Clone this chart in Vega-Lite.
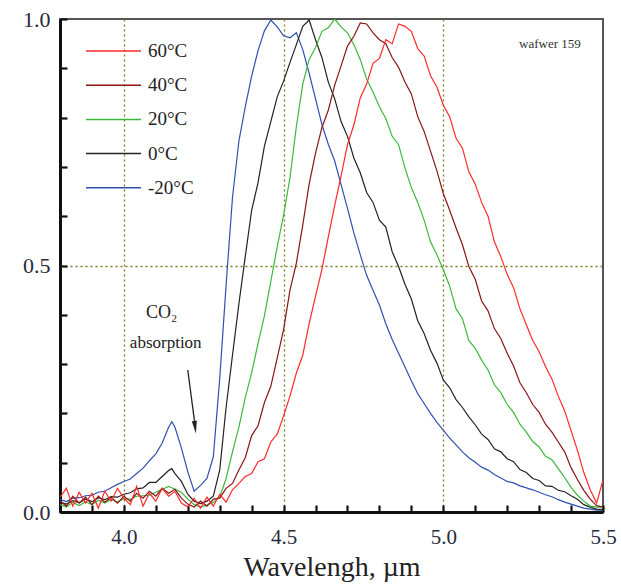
{
"$schema":"https://vega.github.io/schema/vega-lite/v6.json",
"width":543,"height":493,"autosize":"none",
"padding":{"left":60,"top":19,"right":18,"bottom":75},
"background":"white",
"config":{"view":{"stroke":"#555","strokeWidth":2},"font":"Liberation Serif"},
"datasets":{
"m20":[{"x":3.8,"y":0.025},{"x":3.82,"y":0.021},{"x":3.84,"y":0.028},{"x":3.86,"y":0.029},{"x":3.88,"y":0.033},{"x":3.9,"y":0.034},{"x":3.92,"y":0.04},{"x":3.94,"y":0.042},{"x":3.96,"y":0.049},{"x":3.98,"y":0.056},{"x":4.0,"y":0.062},{"x":4.02,"y":0.067},{"x":4.04,"y":0.078},{"x":4.06,"y":0.089},{"x":4.08,"y":0.104},{"x":4.1,"y":0.118},{"x":4.12,"y":0.14},{"x":4.14,"y":0.172},{"x":4.15,"y":0.183},{"x":4.16,"y":0.172},{"x":4.18,"y":0.13},{"x":4.2,"y":0.082},{"x":4.22,"y":0.042},{"x":4.24,"y":0.054},{"x":4.26,"y":0.068},{"x":4.28,"y":0.112},{"x":4.3,"y":0.27},{"x":4.32,"y":0.46},{"x":4.34,"y":0.638},{"x":4.36,"y":0.752},{"x":4.38,"y":0.822},{"x":4.4,"y":0.884},{"x":4.42,"y":0.936},{"x":4.44,"y":0.976},{"x":4.46,"y":0.998},{"x":4.48,"y":0.984},{"x":4.5,"y":0.966},{"x":4.52,"y":0.962},{"x":4.54,"y":0.972},{"x":4.56,"y":0.938},{"x":4.58,"y":0.89},{"x":4.6,"y":0.838},{"x":4.62,"y":0.786},{"x":4.64,"y":0.746},{"x":4.66,"y":0.712},{"x":4.68,"y":0.664},{"x":4.7,"y":0.616},{"x":4.72,"y":0.566},{"x":4.74,"y":0.522},{"x":4.76,"y":0.48},{"x":4.78,"y":0.45},{"x":4.8,"y":0.42},{"x":4.82,"y":0.382},{"x":4.84,"y":0.35},{"x":4.86,"y":0.322},{"x":4.88,"y":0.294},{"x":4.9,"y":0.266},{"x":4.92,"y":0.24},{"x":4.94,"y":0.22},{"x":4.96,"y":0.2},{"x":4.98,"y":0.182},{"x":5.0,"y":0.166},{"x":5.02,"y":0.15},{"x":5.04,"y":0.136},{"x":5.06,"y":0.122},{"x":5.08,"y":0.11},{"x":5.1,"y":0.101},{"x":5.12,"y":0.091},{"x":5.14,"y":0.085},{"x":5.16,"y":0.076},{"x":5.18,"y":0.069},{"x":5.2,"y":0.062},{"x":5.22,"y":0.059},{"x":5.24,"y":0.053},{"x":5.26,"y":0.049},{"x":5.28,"y":0.045},{"x":5.3,"y":0.04},{"x":5.32,"y":0.035},{"x":5.34,"y":0.031},{"x":5.36,"y":0.025},{"x":5.38,"y":0.02},{"x":5.4,"y":0.016},{"x":5.42,"y":0.012},{"x":5.44,"y":0.008},{"x":5.46,"y":0.006},{"x":5.48,"y":0.004},{"x":5.5,"y":0.004}],
"z0":[{"x":3.8,"y":0.02},{"x":3.82,"y":0.016},{"x":3.84,"y":0.023},{"x":3.86,"y":0.019},{"x":3.88,"y":0.026},{"x":3.9,"y":0.021},{"x":3.92,"y":0.029},{"x":3.94,"y":0.025},{"x":3.96,"y":0.031},{"x":3.98,"y":0.03},{"x":4.0,"y":0.036},{"x":4.02,"y":0.039},{"x":4.04,"y":0.047},{"x":4.06,"y":0.049},{"x":4.08,"y":0.06},{"x":4.1,"y":0.06},{"x":4.12,"y":0.072},{"x":4.14,"y":0.084},{"x":4.15,"y":0.088},{"x":4.16,"y":0.078},{"x":4.18,"y":0.062},{"x":4.2,"y":0.036},{"x":4.22,"y":0.022},{"x":4.24,"y":0.017},{"x":4.26,"y":0.022},{"x":4.28,"y":0.032},{"x":4.3,"y":0.085},{"x":4.32,"y":0.212},{"x":4.34,"y":0.318},{"x":4.36,"y":0.422},{"x":4.38,"y":0.518},{"x":4.4,"y":0.612},{"x":4.42,"y":0.668},{"x":4.44,"y":0.742},{"x":4.46,"y":0.792},{"x":4.48,"y":0.842},{"x":4.5,"y":0.874},{"x":4.52,"y":0.912},{"x":4.54,"y":0.948},{"x":4.56,"y":0.985},{"x":4.58,"y":0.998},{"x":4.6,"y":0.958},{"x":4.62,"y":0.922},{"x":4.64,"y":0.872},{"x":4.66,"y":0.838},{"x":4.68,"y":0.792},{"x":4.7,"y":0.762},{"x":4.72,"y":0.718},{"x":4.74,"y":0.688},{"x":4.76,"y":0.648},{"x":4.78,"y":0.628},{"x":4.8,"y":0.592},{"x":4.82,"y":0.578},{"x":4.84,"y":0.528},{"x":4.86,"y":0.498},{"x":4.88,"y":0.462},{"x":4.9,"y":0.432},{"x":4.92,"y":0.388},{"x":4.94,"y":0.362},{"x":4.96,"y":0.328},{"x":4.98,"y":0.302},{"x":5.0,"y":0.268},{"x":5.02,"y":0.252},{"x":5.04,"y":0.228},{"x":5.06,"y":0.212},{"x":5.08,"y":0.193},{"x":5.1,"y":0.177},{"x":5.12,"y":0.158},{"x":5.14,"y":0.147},{"x":5.16,"y":0.128},{"x":5.18,"y":0.122},{"x":5.2,"y":0.108},{"x":5.22,"y":0.102},{"x":5.24,"y":0.086},{"x":5.26,"y":0.08},{"x":5.28,"y":0.068},{"x":5.3,"y":0.064},{"x":5.32,"y":0.053},{"x":5.34,"y":0.052},{"x":5.36,"y":0.044},{"x":5.38,"y":0.041},{"x":5.4,"y":0.033},{"x":5.42,"y":0.026},{"x":5.44,"y":0.015},{"x":5.46,"y":0.01},{"x":5.48,"y":0.006},{"x":5.5,"y":0.005}],
"p20":[{"x":3.8,"y":0.015},{"x":3.82,"y":0.01},{"x":3.84,"y":0.02},{"x":3.86,"y":0.013},{"x":3.88,"y":0.021},{"x":3.9,"y":0.015},{"x":3.92,"y":0.024},{"x":3.94,"y":0.018},{"x":3.96,"y":0.026},{"x":3.98,"y":0.02},{"x":4.0,"y":0.027},{"x":4.02,"y":0.026},{"x":4.04,"y":0.032},{"x":4.06,"y":0.033},{"x":4.08,"y":0.034},{"x":4.1,"y":0.04},{"x":4.12,"y":0.046},{"x":4.14,"y":0.052},{"x":4.16,"y":0.046},{"x":4.18,"y":0.04},{"x":4.2,"y":0.026},{"x":4.22,"y":0.015},{"x":4.24,"y":0.01},{"x":4.26,"y":0.014},{"x":4.28,"y":0.02},{"x":4.3,"y":0.03},{"x":4.32,"y":0.068},{"x":4.34,"y":0.122},{"x":4.36,"y":0.172},{"x":4.38,"y":0.232},{"x":4.4,"y":0.282},{"x":4.42,"y":0.342},{"x":4.44,"y":0.398},{"x":4.46,"y":0.468},{"x":4.48,"y":0.538},{"x":4.5,"y":0.602},{"x":4.52,"y":0.678},{"x":4.54,"y":0.782},{"x":4.56,"y":0.868},{"x":4.58,"y":0.918},{"x":4.6,"y":0.942},{"x":4.62,"y":0.975},{"x":4.64,"y":0.982},{"x":4.66,"y":1.0},{"x":4.68,"y":0.984},{"x":4.7,"y":0.972},{"x":4.72,"y":0.948},{"x":4.74,"y":0.918},{"x":4.76,"y":0.878},{"x":4.78,"y":0.852},{"x":4.8,"y":0.822},{"x":4.82,"y":0.798},{"x":4.84,"y":0.762},{"x":4.86,"y":0.745},{"x":4.88,"y":0.698},{"x":4.9,"y":0.658},{"x":4.92,"y":0.628},{"x":4.94,"y":0.592},{"x":4.96,"y":0.548},{"x":4.98,"y":0.522},{"x":5.0,"y":0.492},{"x":5.02,"y":0.458},{"x":5.04,"y":0.412},{"x":5.06,"y":0.392},{"x":5.08,"y":0.348},{"x":5.1,"y":0.332},{"x":5.12,"y":0.308},{"x":5.14,"y":0.288},{"x":5.16,"y":0.258},{"x":5.18,"y":0.242},{"x":5.2,"y":0.218},{"x":5.22,"y":0.202},{"x":5.24,"y":0.178},{"x":5.26,"y":0.162},{"x":5.28,"y":0.143},{"x":5.3,"y":0.132},{"x":5.32,"y":0.113},{"x":5.34,"y":0.106},{"x":5.36,"y":0.088},{"x":5.38,"y":0.07},{"x":5.4,"y":0.05},{"x":5.42,"y":0.034},{"x":5.44,"y":0.022},{"x":5.46,"y":0.012},{"x":5.48,"y":0.01},{"x":5.5,"y":0.01}],
"p40":[{"x":3.8,"y":0.022},{"x":3.82,"y":0.012},{"x":3.84,"y":0.032},{"x":3.86,"y":0.018},{"x":3.88,"y":0.03},{"x":3.9,"y":0.015},{"x":3.92,"y":0.032},{"x":3.94,"y":0.02},{"x":3.96,"y":0.03},{"x":3.98,"y":0.018},{"x":4.0,"y":0.032},{"x":4.02,"y":0.022},{"x":4.04,"y":0.038},{"x":4.06,"y":0.028},{"x":4.08,"y":0.042},{"x":4.1,"y":0.032},{"x":4.12,"y":0.048},{"x":4.14,"y":0.038},{"x":4.16,"y":0.046},{"x":4.18,"y":0.028},{"x":4.2,"y":0.016},{"x":4.22,"y":0.01},{"x":4.24,"y":0.022},{"x":4.26,"y":0.012},{"x":4.28,"y":0.026},{"x":4.3,"y":0.028},{"x":4.32,"y":0.048},{"x":4.34,"y":0.058},{"x":4.36,"y":0.085},{"x":4.38,"y":0.11},{"x":4.4,"y":0.155},{"x":4.42,"y":0.175},{"x":4.44,"y":0.222},{"x":4.46,"y":0.255},{"x":4.48,"y":0.312},{"x":4.5,"y":0.37},{"x":4.52,"y":0.45},{"x":4.54,"y":0.505},{"x":4.56,"y":0.582},{"x":4.58,"y":0.665},{"x":4.6,"y":0.728},{"x":4.62,"y":0.78},{"x":4.64,"y":0.815},{"x":4.66,"y":0.866},{"x":4.68,"y":0.905},{"x":4.7,"y":0.945},{"x":4.72,"y":0.965},{"x":4.74,"y":0.992},{"x":4.76,"y":0.99},{"x":4.78,"y":0.972},{"x":4.8,"y":0.958},{"x":4.82,"y":0.95},{"x":4.84,"y":0.922},{"x":4.86,"y":0.902},{"x":4.88,"y":0.872},{"x":4.9,"y":0.848},{"x":4.92,"y":0.802},{"x":4.94,"y":0.772},{"x":4.96,"y":0.732},{"x":4.98,"y":0.692},{"x":5.0,"y":0.646},{"x":5.02,"y":0.612},{"x":5.04,"y":0.576},{"x":5.06,"y":0.542},{"x":5.08,"y":0.498},{"x":5.1,"y":0.472},{"x":5.12,"y":0.428},{"x":5.14,"y":0.408},{"x":5.16,"y":0.372},{"x":5.18,"y":0.352},{"x":5.2,"y":0.322},{"x":5.22,"y":0.296},{"x":5.24,"y":0.262},{"x":5.26,"y":0.242},{"x":5.28,"y":0.218},{"x":5.3,"y":0.202},{"x":5.32,"y":0.178},{"x":5.34,"y":0.162},{"x":5.36,"y":0.142},{"x":5.38,"y":0.122},{"x":5.4,"y":0.09},{"x":5.42,"y":0.066},{"x":5.44,"y":0.044},{"x":5.46,"y":0.026},{"x":5.48,"y":0.013},{"x":5.5,"y":0.01}],
"p60":[{"x":3.8,"y":0.03},{"x":3.82,"y":0.048},{"x":3.84,"y":0.012},{"x":3.86,"y":0.04},{"x":3.88,"y":0.018},{"x":3.9,"y":0.038},{"x":3.92,"y":0.008},{"x":3.94,"y":0.042},{"x":3.96,"y":0.022},{"x":3.98,"y":0.048},{"x":4.0,"y":0.028},{"x":4.02,"y":0.015},{"x":4.04,"y":0.052},{"x":4.06,"y":0.012},{"x":4.08,"y":0.038},{"x":4.1,"y":0.022},{"x":4.12,"y":0.048},{"x":4.14,"y":0.032},{"x":4.16,"y":0.042},{"x":4.18,"y":0.018},{"x":4.2,"y":0.01},{"x":4.22,"y":0.028},{"x":4.24,"y":0.008},{"x":4.26,"y":0.03},{"x":4.28,"y":0.012},{"x":4.3,"y":0.036},{"x":4.32,"y":0.02},{"x":4.34,"y":0.045},{"x":4.36,"y":0.058},{"x":4.38,"y":0.072},{"x":4.4,"y":0.078},{"x":4.42,"y":0.102},{"x":4.44,"y":0.108},{"x":4.46,"y":0.142},{"x":4.48,"y":0.158},{"x":4.5,"y":0.195},{"x":4.52,"y":0.235},{"x":4.54,"y":0.282},{"x":4.56,"y":0.318},{"x":4.58,"y":0.382},{"x":4.6,"y":0.438},{"x":4.62,"y":0.492},{"x":4.64,"y":0.558},{"x":4.66,"y":0.622},{"x":4.68,"y":0.682},{"x":4.7,"y":0.745},{"x":4.72,"y":0.785},{"x":4.74,"y":0.84},{"x":4.76,"y":0.868},{"x":4.78,"y":0.91},{"x":4.8,"y":0.92},{"x":4.82,"y":0.958},{"x":4.84,"y":0.95},{"x":4.86,"y":0.99},{"x":4.88,"y":0.985},{"x":4.9,"y":0.975},{"x":4.92,"y":0.94},{"x":4.94,"y":0.925},{"x":4.96,"y":0.885},{"x":4.98,"y":0.862},{"x":5.0,"y":0.825},{"x":5.02,"y":0.802},{"x":5.04,"y":0.758},{"x":5.06,"y":0.738},{"x":5.08,"y":0.69},{"x":5.1,"y":0.665},{"x":5.12,"y":0.628},{"x":5.14,"y":0.6},{"x":5.16,"y":0.548},{"x":5.18,"y":0.518},{"x":5.2,"y":0.482},{"x":5.22,"y":0.455},{"x":5.24,"y":0.412},{"x":5.26,"y":0.38},{"x":5.28,"y":0.348},{"x":5.3,"y":0.325},{"x":5.32,"y":0.295},{"x":5.34,"y":0.27},{"x":5.36,"y":0.235},{"x":5.38,"y":0.205},{"x":5.4,"y":0.165},{"x":5.42,"y":0.125},{"x":5.44,"y":0.08},{"x":5.46,"y":0.045},{"x":5.48,"y":0.018},{"x":5.5,"y":0.065}],
"note":[{"x":5.334,"y":0.949,"t":"wafwer 159"}],
"co2":[{"x":4.118,"y":0.404,"t":"CO₂"}],
"abs":[{"x":4.131,"y":0.343,"t":"absorption"}],
"arrow":[{"x":4.2,"y":0.288,"x2":4.221,"y2":0.185}],
"head":[{"x":4.223,"y":0.172}]
},
"encoding":{
"x":{"field":"x","type":"quantitative","scale":{"domain":[3.8,5.5],"nice":false,"zero":false},
"axis":{"values":[3.8,3.9,4.0,4.1,4.2,4.3,4.4,4.5,4.6,4.7,4.8,4.9,5.0,5.1,5.2,5.3,5.4,5.5],
"labelExpr":"indexof([4,4.5,5,5.5], datum.value) >= 0 ? format(datum.value, '.1f') : ''",
"tickSize":-7,
"encode":{"ticks":{"update":{"y2":{"signal":"indexof([4,4.5,5,5.5], datum.value) >= 0 ? -12 : -7"}}}},
"grid":true,"gridOpacity":{"condition":{"test":"indexof([4,4.5,5], datum.value) >= 0","value":1},"value":0},
"gridColor":"#7a7a20","gridDash":[2,3],"gridWidth":1.3,
"domainColor":"#111","domainWidth":3,"tickColor":"#111","tickWidth":2.2,
"labelFont":"Liberation Serif","labelFontSize":21,"labelColor":"#2a2a3a","labelPadding":21,"labelFlush":false,"labelOverlap":false,
"title":"Wavelengh, µm","titleFont":"Liberation Serif","titleFontSize":28,"titleFontWeight":"normal","titleColor":"#222","titlePadding":6}},
"y":{"field":"y","type":"quantitative","scale":{"domain":[0,1],"nice":false},
"axis":{"values":[0,0.1,0.2,0.3,0.4,0.5,0.6,0.7,0.8,0.9,1.0],
"labelExpr":"indexof([0,0.5,1], datum.value) >= 0 ? format(datum.value, '.1f') : ''",
"tickSize":-7,
"encode":{"ticks":{"update":{"x2":{"signal":"indexof([0,0.5,1], datum.value) >= 0 ? 12 : 7"}}}},
"grid":true,"gridOpacity":{"condition":{"test":"datum.value == 0.5","value":1},"value":0},
"gridColor":"#7a7a20","gridDash":[2,3],"gridWidth":1.3,
"domainColor":"#111","domainWidth":3,"tickColor":"#111","tickWidth":2.2,
"labelFont":"Liberation Serif","labelFontSize":22,"labelColor":"#2a2a3a","labelPadding":17,"labelFlush":false,"labelOverlap":false,
"title":null}}
},
"layer":[
{"data":{"name":"m20"},"mark":{"type":"line","strokeWidth":1.2,"clip":true},
"encoding":{"color":{"datum":"-20°C","type":"nominal",
"scale":{"domain":["60°C","40°C","20°C","0°C","-20°C"],"range":["#ff2a2a","#8b1515","#3cb83c","#222222","#3050b0"]},
"legend":{"orient":"none","legendX":25,"legendY":22,"title":null,"symbolType":"stroke","symbolSize":3025,"symbolStrokeWidth":1.5,
"labelFont":"Liberation Serif","labelFontSize":19,"labelColor":"#222","clipHeight":20,"rowPadding":14.2,"padding":0,"labelOffset":6}}}},
{"data":{"name":"z0"},"mark":{"type":"line","strokeWidth":1.2,"clip":true},"encoding":{"color":{"datum":"0°C","type":"nominal"}}},
{"data":{"name":"p20"},"mark":{"type":"line","strokeWidth":1.2,"clip":true},"encoding":{"color":{"datum":"20°C","type":"nominal"}}},
{"data":{"name":"p40"},"mark":{"type":"line","strokeWidth":1.2,"clip":true},"encoding":{"color":{"datum":"40°C","type":"nominal"}}},
{"data":{"name":"p60"},"mark":{"type":"line","strokeWidth":1.2,"clip":true},"encoding":{"color":{"datum":"60°C","type":"nominal"}}},
{"data":{"name":"note"},"mark":{"type":"text","font":"Liberation Serif","fontSize":13,"color":"#333"},"encoding":{"text":{"field":"t"}}},
{"data":{"name":"co2"},"mark":{"type":"text","font":"Liberation Serif","fontSize":18,"color":"#222"},"encoding":{"text":{"field":"t"}}},
{"data":{"name":"abs"},"mark":{"type":"text","font":"Liberation Serif","fontSize":17,"color":"#222"},"encoding":{"text":{"field":"t"}}},
{"data":{"name":"arrow"},"mark":{"type":"rule","strokeWidth":1.3,"color":"#222"},"encoding":{"x2":{"field":"x2"},"y2":{"field":"y2"}}},
{"data":{"name":"head"},"mark":{"type":"point","shape":"M0,1L-0.4,-1L0.4,-1Z","filled":true,"size":160,"angle":353,"color":"#222","opacity":1},"encoding":{}}
]
}
